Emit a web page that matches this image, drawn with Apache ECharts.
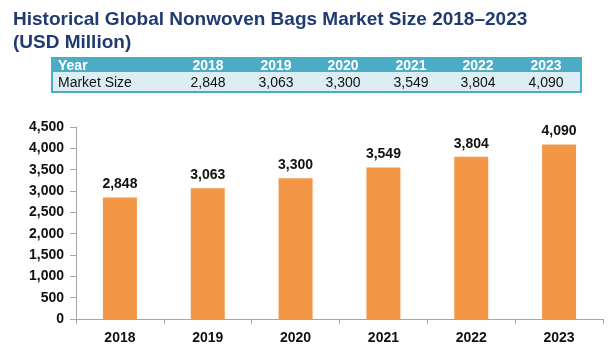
<!DOCTYPE html>
<html>
<head>
<meta charset="utf-8">
<script src="https://cdn.jsdelivr.net/npm/echarts@6/dist/echarts.min.js"></script>
<style>
  html, body { margin: 0; padding: 0; background: #fff; }
  #main { width: 611px; height: 353px; }
</style>
</head>
<body>
<div id="main"></div>
<script>
// data
var years = ['2018', '2019', '2020', '2021', '2022', '2023'];
var marketSize = [2848, 3063, 3300, 3549, 3804, 4090];
var yTicks = [0, 500, 1000, 1500, 2000, 2500, 3000, 3500, 4000, 4500];

var fmt = function (v) { return v.toLocaleString('en-US'); };

// table drawn with graphic elements
var tblLeft = 52, tblTop = 58, tblRight = 581, headH = 14, bodyH = 20;
var colCenters = [208, 276, 343, 411, 478, 546];
var font = '"Liberation Sans", Arial';
var tbl = [];
tbl.push({ type: 'rect', shape: { x: tblLeft, y: tblTop, width: tblRight - tblLeft, height: headH + bodyH },
    style: { fill: '#DCEEF4', stroke: '#4BACC6', lineWidth: 2 } });
tbl.push({ type: 'rect', shape: { x: tblLeft, y: tblTop, width: tblRight - tblLeft, height: headH },
    style: { fill: '#4BACC6' } });
tbl.push({ type: 'text', x: tblLeft + 6, y: tblTop + headH / 2 + 1,
    style: { text: 'Year', fill: '#fff', font: 'bold 14px ' + font, textVerticalAlign: 'middle' } });
tbl.push({ type: 'text', x: tblLeft + 6, y: tblTop + headH + bodyH / 2 + 1,
    style: { text: 'Market Size', fill: '#111', font: '14px ' + font, textVerticalAlign: 'middle' } });
for (var i = 0; i < years.length; i++) {
    tbl.push({ type: 'text', x: colCenters[i], y: tblTop + headH / 2 + 1,
        style: { text: years[i], fill: '#fff', font: 'bold 14px ' + font, textAlign: 'center', textVerticalAlign: 'middle' } });
    tbl.push({ type: 'text', x: colCenters[i], y: tblTop + headH + bodyH / 2 + 1,
        style: { text: fmt(marketSize[i]), fill: '#111', font: '14px ' + font, textAlign: 'center', textVerticalAlign: 'middle' } });
}

var myChart = echarts.init(document.getElementById('main'));
var option = {
    animation: false,
    title: {
        text: 'Historical Global Nonwoven Bags Market Size 2018\u20132023\n(USD Million)',
        left: 8,
        top: 3,
        textStyle: {
            color: '#203A72',
            fontFamily: font,
            fontWeight: 'bold',
            fontSize: 19,
            lineHeight: 23
        }
    },
    graphic: tbl,
    grid: { left: 76, right: 8, top: 127, bottom: 34 },
    xAxis: {
        type: 'category',
        data: years,
        axisLine: { lineStyle: { color: '#A6A6A6' } },
        axisTick: { show: true, length: 5, lineStyle: { color: '#A6A6A6' } },
        axisLabel: { color: '#111', fontWeight: 'bold', fontSize: 14,
            fontFamily: font, margin: 12 }
    },
    yAxis: {
        type: 'value',
        min: yTicks[0],
        max: yTicks[yTicks.length - 1],
        interval: 500,
        axisLine: { show: true, lineStyle: { color: '#A6A6A6' } },
        axisTick: { show: true, length: 6, lineStyle: { color: '#A6A6A6' } },
        splitLine: { show: false },
        axisLabel: { color: '#111', fontWeight: 'bold', fontSize: 14,
            fontFamily: font, margin: 12,
            formatter: function (v) { return fmt(v); } }
    },
    series: [{
        type: 'bar',
        data: marketSize,
        barWidth: 34,
        itemStyle: { color: '#F39746' },
        label: {
            show: true,
            position: 'top',
            distance: 6,
            color: '#111',
            fontWeight: 'bold',
            fontSize: 14,
            fontFamily: font,
            formatter: function (p) { return fmt(p.value); }
        }
    }]
};
myChart.setOption(option);
</script>
</body>
</html>
